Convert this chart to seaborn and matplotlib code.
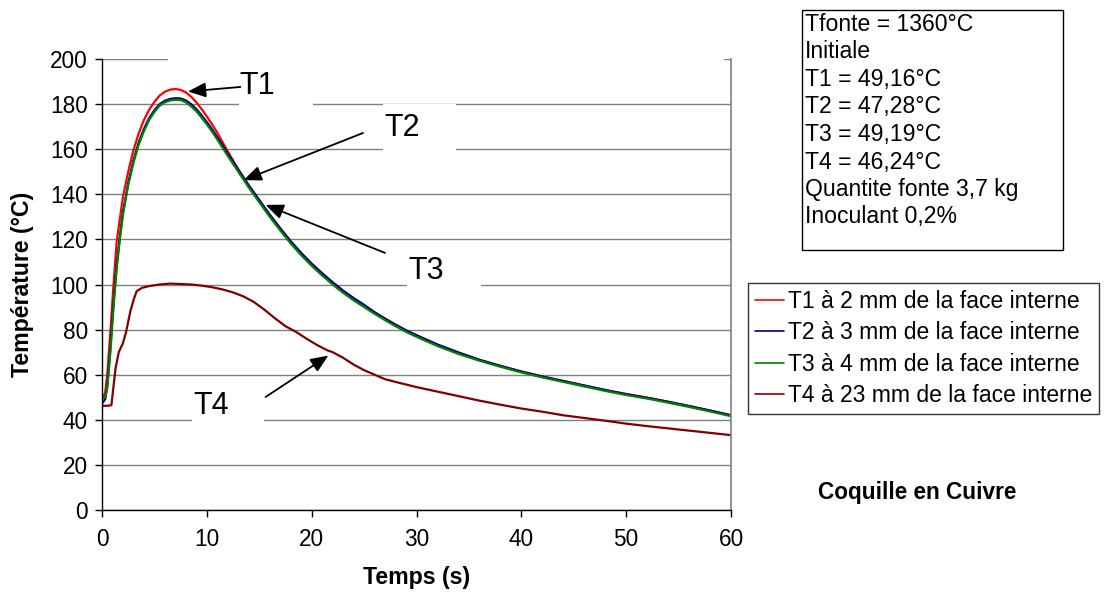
import numpy as np
import pandas as pd
import matplotlib.pyplot as plt
import seaborn as sns
from matplotlib.patches import Rectangle

# temps (s) et températures
t_rapide = [0, 0.3, 0.5, 0.8, 1.1, 1.4, 1.7, 2.0, 2.5, 3.0, 3.5, 4.0, 4.5, 5.0, 5.5, 6.0,
            6.5, 7.0, 7.5, 8.0, 8.5, 9.0, 9.5, 10.0, 10.5, 11.0, 12.0, 13.0, 14.0, 15.0,
            16.0, 17.0, 18.0, 19.0, 20.0, 21.0, 22.0, 23.0, 24.0, 25.0, 26.0, 27.0, 28.0,
            29.0, 30.0, 32.0, 34.0, 36.0, 38.0, 40.0, 42.0, 44.0, 46.0, 48.0, 50.0, 52.0,
            54.0, 56.0, 58.0, 60.0]

T1 = [49.2, 52, 60, 79, 100, 119, 129, 139, 150, 159.5, 167, 173, 177.5, 181, 183.8, 185.5,
      186.4, 186.7, 186.3, 185.2, 183.3, 180.8, 177.8, 174.5, 171, 167.3, 159, 151, 143.7, 137.2,
      130.7, 124.7, 118.9, 113.7, 109, 104.7, 100.7, 97, 93.7, 90.7, 87.6, 84.8, 82.1,
      79.6, 77.4, 73.2, 69.7, 66.6, 63.9, 61.4, 59.2, 57.2, 55.2, 53.2, 51.4, 49.8,
      48, 46.1, 44.1, 42]

T2 = [47.3, 49, 55, 72, 92, 108.5, 121, 132, 145, 155, 163, 169, 173.8, 177.3, 180, 181.5,
      182.3, 182.6, 182.5, 181.6, 180, 177.8, 175, 172, 168.8, 165.3, 158, 151, 144, 137.5,
      131, 125, 119.2, 114, 109.3, 105, 101, 97.3, 94, 91, 87.7, 84.9, 82.2,
      79.7, 77.5, 73.4, 69.9, 66.6, 63.9, 61.4, 59.2, 57.2, 55.2, 53.2, 51.4, 49.8,
      48, 46.1, 44.1, 42]

T3 = [49.2, 50, 54, 70, 90, 107, 120, 131, 144, 154, 162, 168, 173, 176.5, 179.3, 180.8,
      181.6, 181.9, 181.8, 180.8, 179, 176.8, 174, 171, 167.8, 164.3, 157, 150, 143, 136.5,
      130, 124, 118.2, 113, 108.3, 104, 100, 96.3, 93, 90, 87, 84.2, 81.5,
      79, 76.8, 72.7, 69.2, 66.2, 63.5, 61, 58.8, 56.8, 54.8, 52.8, 51, 49.4,
      47.6, 45.7, 43.7, 41.6]

t_t4 = [0, 0.5, 0.9, 1.1, 1.3, 1.6, 2.0, 2.3, 2.7, 3.0, 3.3, 3.8, 4.5, 5.5, 6.5, 7.5, 8.5,
        9.5, 10.5, 11.5, 12.5, 13.5, 14.5, 15.5, 16.5, 17.5, 18.5, 19.5, 20.5, 21.5, 22.0,
        23.0, 24.0, 25.0, 26.0, 27.0, 28.0, 30.0, 32.0, 34.0, 36.0, 38.0, 40.0, 42.0, 44.0,
        46.0, 48.0, 50.0, 52.0, 54.0, 56.0, 58.0, 60.0]
T4 = [46.2, 46.2, 46.5, 55, 63, 70, 74, 79, 88, 93, 97, 98.5, 99.3, 100, 100.4, 100.2, 100,
      99.5, 98.8, 97.8, 96.5, 94.7, 92.2, 88.8, 85, 81.5, 79, 76, 73.2, 70.8, 70,
      67.5, 64.5, 62, 60, 58, 56.8, 54.5, 52.5, 50.5, 48.5, 46.7, 45, 43.6, 42,
      40.8, 39.6, 38.3, 37.2, 36.2, 35.2, 34.2, 33.2]

noms = ["T1 à 2 mm de la face interne", "T2 à 3 mm de la face interne",
        "T3 à 4 mm de la face interne", "T4 à 23 mm de la face interne"]
couleurs = ["#ff0000", "#000080", "#008000", "#800000"]

infos = ["Tfonte = 1360°C", "Initiale", "T1 = 49,16°C", "T2 = 47,28°C", "T3 = 49,19°C",
         "T4 = 46,24°C", "Quantite fonte 3,7 kg", "Inoculant 0,2%"]

df = pd.concat([
    pd.DataFrame({"t": t_rapide, "T": T1, "serie": noms[0]}),
    pd.DataFrame({"t": t_rapide, "T": T2, "serie": noms[1]}),
    pd.DataFrame({"t": t_rapide, "T": T3, "serie": noms[2]}),
    pd.DataFrame({"t": t_t4, "T": T4, "serie": noms[3]}),
])

sns.set_style("white")
plt.rcParams['font.family'] = ['Liberation Sans', 'DejaVu Sans']
plt.rcParams['text.color'] = 'black'
plt.rcParams['axes.labelcolor'] = 'black'
plt.rcParams['xtick.color'] = 'black'
plt.rcParams['ytick.color'] = 'black'

fig = plt.figure(figsize=(11.07, 5.95), dpi=100)
ax = fig.add_axes([102 / 1107, 85 / 595, 629 / 1107, 451 / 595])

sns.lineplot(data=df, x="t", y="T", hue="serie", palette=couleurs, linewidth=1.6,
             ax=ax, sort=False, estimator=None)

ax.set_xlim(0, 60)
ax.set_ylim(0, 200)
ax.set_xticks(np.arange(0, 61, 10))
ax.set_yticks(np.arange(0, 201, 20))
ax.grid(axis='y', color='#808080', linewidth=1)
ax.set_axisbelow(True)
ax.tick_params(axis='both', labelsize=16.3, direction='out', length=5, width=1,
               color='black', left=True, bottom=True)
ax.tick_params(axis='y', pad=5)
ax.tick_params(axis='x', pad=8)
ax.set_xlabel("Temps (s)", fontsize=16.7, fontweight='bold', labelpad=11)
ax.set_ylabel("Température (°C)", fontsize=16.7, fontweight='bold', labelpad=12)

for s in ['left', 'bottom']:
    ax.spines[s].set_color('black')
    ax.spines[s].set_linewidth(1)
ax.spines['right'].set_color('#808080')
ax.spines['right'].set_linewidth(1.2)
ax.spines['top'].set_visible(False)

# caches blancs derrière les étiquettes (coupent le quadrillage)
for (x0, x1, y0, y1) in [(6.3, 59.3, 197, 203), (13.1, 20.1, 176, 197),
                         (26.8, 33.8, 157, 180), (29.1, 36.2, 97, 115), (8.6, 15.5, 38, 55)]:
    ax.add_patch(Rectangle((x0, y0), x1 - x0, y1 - y0, facecolor='white', edgecolor='none',
                           zorder=1, clip_on=False))

fleche = dict(arrowstyle='-|>,head_length=0.6,head_width=0.25', mutation_scale=18,
              color='black', lw=1.3, shrinkA=0, shrinkB=0)
for lab, pos, tip, tail in [("T1", (13.14, 188), (8.2, 185.6), (13.2, 187.6)),
                            ("T2", (26.95, 169.4), (13.5, 146.3), (24.9, 167.2)),
                            ("T3", (29.24, 106), (15.6, 135.3), (27.0, 114.0)),
                            ("T4", (8.67, 46), (21.6, 68.5), (15.6, 50.1))]:
    ax.text(pos[0], pos[1], lab, fontsize=22, ha='left', va='center', zorder=5)
    ax.annotate('', xy=tip, xytext=tail, arrowprops=fleche, zorder=5)

leg = ax.legend(loc='upper left', bbox_to_anchor=(748 / 1107, (595 - 283) / 595),
                bbox_transform=fig.transFigure, borderaxespad=0, fontsize=16.5,
                frameon=True, fancybox=False, handlelength=1.25, handletextpad=0.2,
                labelspacing=0.37, borderpad=0.3)
leg.get_frame().set_edgecolor('black')
leg.get_frame().set_linewidth(1)
for l in leg.get_lines():
    l.set_linewidth(1.2)

# encadré d'informations
fig.patches.append(Rectangle((802 / 1107, (595 - 250) / 595), 261 / 1107, 240 / 595,
                             transform=fig.transFigure, facecolor='white',
                             edgecolor='black', linewidth=1))
fig.text(805 / 1107, (595 - 13) / 595, "\n".join(infos), fontsize=16.6, ha='left',
         va='top', linespacing=1.25)

fig.text(917 / 1107, (595 - 492) / 595, "Coquille en Cuivre", fontsize=16.3,
         fontweight='bold', ha='center', va='center')

plt.savefig("out.png", dpi=100)
